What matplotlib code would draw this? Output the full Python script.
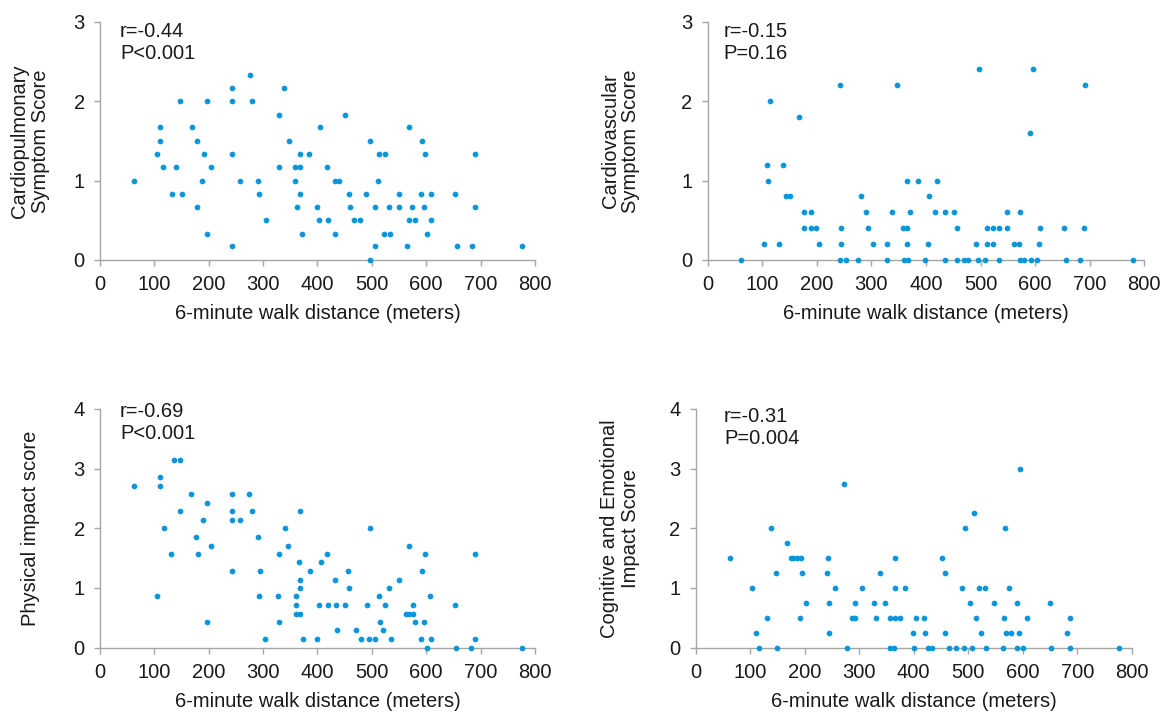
import matplotlib
matplotlib.use("Agg")
import matplotlib.pyplot as plt

plt.rcParams['font.family'] = ['Liberation Sans', 'DejaVu Sans']

# ── Data (6-minute walk distance vs. scores) ─────────────────────────────────

cp_walk = [63, 104, 110, 110, 116, 132, 139, 147, 151, 169, 178, 179, 188, 191, 196,
           196, 205, 242, 243, 243, 243, 257, 275, 280, 291, 293, 306, 329, 329, 339,
           348, 359, 359, 367, 367, 362, 367, 372, 384, 400, 402, 405, 418, 420, 432,
           439, 433, 451, 458, 459, 468, 479, 490, 496, 497, 505, 506, 512, 514, 525,
           522, 532, 534, 549, 549, 564, 568, 568, 574, 580, 591, 592, 595, 597, 601,
           608, 608, 653, 656, 684, 689, 689, 777]
cp_score = [1.0, 1.33, 1.67, 1.5, 1.17, 0.83, 1.17, 2.0, 0.83, 1.67, 1.5, 0.67, 1.0, 1.33, 0.33,
            2.0, 1.17, 2.17, 2.0, 1.33, 0.17, 1.0, 2.33, 2.0, 1.0, 0.83, 0.5, 1.83, 1.17, 2.17,
            1.5, 1.17, 1.0, 1.17, 1.33, 0.67, 0.83, 0.33, 1.33, 0.67, 0.5, 1.67, 1.17, 0.5, 1.0,
            1.0, 0.33, 1.83, 0.83, 0.67, 0.5, 0.5, 0.83, 1.5, 0.0, 0.17, 0.67, 1.0, 1.33, 1.33,
            0.33, 0.67, 0.33, 0.83, 0.67, 0.17, 1.67, 0.5, 0.67, 0.5, 0.83, 1.5, 0.67, 1.33, 0.33,
            0.83, 0.5, 0.83, 0.17, 0.17, 1.33, 0.67, 0.17]

cv_walk = [61, 104, 109, 110, 114, 130, 138, 144, 151, 168, 176, 176, 189, 190, 198,
           204, 242, 242, 245, 245, 254, 275, 281, 290, 294, 303, 328, 329, 338, 347,
           358, 360, 366, 366, 367, 366, 371, 386, 399, 403, 405, 417, 421, 434, 434,
           452, 456, 457, 470, 477, 491, 495, 498, 508, 512, 511, 523, 523, 533, 533,
           549, 549, 561, 571, 572, 573, 579, 591, 593, 597, 603, 609, 608, 652, 656,
           683, 689, 691, 779]
cv_score = [0, 0.2, 1.2, 1.0, 2.0, 0.2, 1.2, 0.8, 0.8, 1.8, 0.6, 0.4, 0.6, 0.4, 0.4,
            0.2, 2.2, 0, 0.4, 0.2, 0, 0, 0.8, 0.6, 0.4, 0.2, 0.2, 0, 0.6, 2.2,
            0.4, 0, 0.4, 0.2, 0, 1.0, 0.6, 1.0, 0, 0.2, 0.8, 0.6, 1.0, 0, 0.6,
            0.6, 0, 0.4, 0, 0, 0.2, 0, 2.4, 0, 0.4, 0.2, 0.4, 0.2, 0.4, 0,
            0.6, 0.4, 0.2, 0.2, 0.6, 0, 0, 1.6, 0, 2.4, 0, 0.4, 0.2, 0.4, 0,
            0, 0.4, 2.2, 0]

pi_walk = [63, 104, 110, 110, 118, 131, 136, 147, 148, 167, 177, 180, 190, 196, 196,
           205, 243, 243, 243, 243, 257, 274, 280, 291, 294, 293, 304, 327, 329, 330,
           341, 346, 360, 360, 360, 368, 366, 367, 367, 368, 373, 386, 400, 402, 406,
           417, 419, 432, 434, 435, 451, 457, 458, 470, 480, 491, 495, 496, 505, 513,
           515, 521, 525, 532, 535, 549, 562, 568, 569, 575, 576, 580, 590, 592, 595,
           597, 601, 607, 608, 652, 655, 682, 689, 690, 777]
pi_score = [2.71, 0.86, 2.86, 2.71, 2.0, 1.57, 3.14, 3.14, 2.29, 2.57, 1.86, 1.57, 2.14, 2.43, 0.43,
            1.71, 2.57, 2.29, 2.14, 1.29, 2.14, 2.57, 2.29, 1.86, 1.29, 0.86, 0.14, 0.86, 0.43, 1.57,
            2.0, 1.71, 0.86, 0.71, 0.57, 0.57, 1.43, 1.14, 1.0, 2.29, 0.14, 1.29, 0.14, 0.71, 1.43,
            1.57, 0.71, 1.14, 0.71, 0.29, 0.71, 1.29, 1.0, 0.29, 0.14, 0.71, 0.14, 2.0, 0.14, 0.86,
            0.43, 0.29, 0.71, 1.0, 0.14, 1.14, 0.57, 0.57, 1.71, 0.57, 0.71, 0.43, 0.14, 1.29, 0.43,
            1.57, 0.0, 0.86, 0.14, 0.71, 0.0, 0.0, 0.14, 1.57, 0.0]

ce_walk = [63, 103, 110, 117, 131, 139, 148, 149, 167, 174, 179, 186, 194, 195, 192,
           203, 240, 242, 244, 244, 255, 273, 278, 287, 293, 293, 305, 327, 330, 338,
           348, 357, 365, 374, 357, 364, 365, 365, 384, 398, 400, 405, 418, 420, 426,
           434, 451, 458, 458, 465, 478, 489, 493, 495, 504, 507, 511, 514, 519, 523,
           530, 533, 547, 564, 566, 567, 570, 574, 579, 590, 590, 593, 595, 601, 607,
           650, 652, 681, 687, 687, 776]
ce_score = [1.5, 1.0, 0.25, 0, 0.5, 2.0, 1.25, 0, 1.75, 1.5, 1.5, 1.5, 1.5, 1.25, 0.5,
            0.75, 1.25, 1.5, 0.75, 0.25, 1.0, 2.75, 0, 0.5, 0.5, 0.75, 1.0, 0.75, 0.5, 1.25,
            0.75, 0.5, 0.5, 0.5, 0, 0, 1.5, 1.0, 1.0, 0.25, 0, 0.5, 0.5, 0.25, 0,
            0, 1.5, 1.25, 0.25, 0, 0, 1.0, 0, 2.0, 0.75, 0, 2.25, 0.5, 1.0, 0.25,
            1.0, 0, 0.75, 0, 0.5, 2.0, 0.25, 1.0, 0.25, 0.75, 0, 0.25, 3.0, 0, 0.5,
            0.75, 0, 0.25, 0.5, 0, 0]

x_ticks = [0, 100, 200, 300, 400, 500, 600, 700, 800]
x_label = "6-minute walk distance (meters)"

# ── Styling ──────────────────────────────────────────────────────────────────

DOT = '#0a96dc'
AXIS = '#a6a6a6'
FS = 14.5


def scatter_panel(ax, x, y, ylabel, ymax, stats, label_x, text_pos):
    ax.scatter(x, y, s=17, color=DOT, linewidths=0, clip_on=False, zorder=3)
    ax.set_xlim(0, 800)
    ax.set_ylim(0, ymax)
    ax.set_xticks(x_ticks)
    ax.set_yticks(range(ymax + 1))
    for side in ('top', 'right'):
        ax.spines[side].set_visible(False)
    for side in ('left', 'bottom'):
        ax.spines[side].set_color(AXIS)
        ax.spines[side].set_linewidth(1.0)
    ax.tick_params(colors=AXIS, labelcolor='#1a1a1a', labelsize=FS,
                   length=4, width=1.0, pad=7)
    ax.set_xlabel(x_label, fontsize=FS, color='#1a1a1a', labelpad=7)
    ax.set_ylabel(ylabel, fontsize=FS, color='#1a1a1a', linespacing=1.1)
    ax.yaxis.set_label_coords(label_x, 0.5)
    ax.text(text_pos[0], text_pos[1], stats, transform=ax.transAxes,
            fontsize=FS, color='#1a1a1a', va='top', ha='left', linespacing=1.2)


fig = plt.figure(figsize=(11.63, 7.14), dpi=100)

ax1 = fig.add_axes([0.0860, 0.6359, 0.3740, 0.3337])
ax2 = fig.add_axes([0.6085, 0.6359, 0.3754, 0.3337])
ax3 = fig.add_axes([0.0860, 0.0929, 0.3740, 0.3343])
ax4 = fig.add_axes([0.5982, 0.0929, 0.3749, 0.3343])

scatter_panel(ax1, cp_walk, cp_score, "Cardiopulmonary\nSymptom Score", 3,
              "r=-0.44\nP<0.001", -0.115, (0.046, 1.0))
scatter_panel(ax2, cv_walk, cv_score, "Cardiovascular\nSymptom Score", 3,
              "r=-0.15\nP=0.16", -0.155, (0.037, 1.0))
scatter_panel(ax3, pi_walk, pi_score, "Physical impact score", 4,
              "r=-0.69\nP<0.001", -0.138, (0.046, 1.03))
scatter_panel(ax4, ce_walk, ce_score, "Cognitive and Emotional\nImpact Score", 4,
              "r=-0.31\nP=0.004", -0.128, (0.065, 1.008))

fig.savefig("out.png", dpi=100)
plt.close(fig)
